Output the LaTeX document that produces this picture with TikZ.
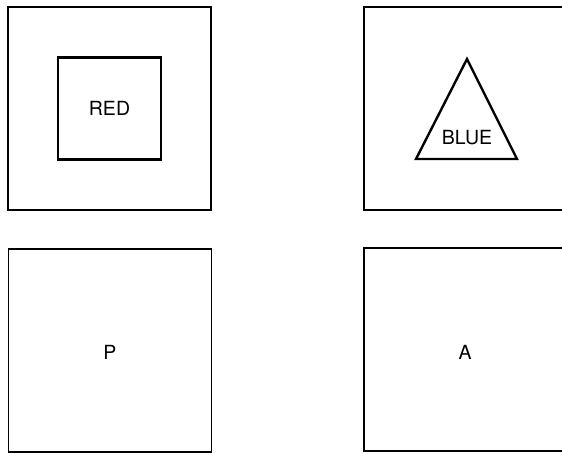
\documentclass[tikz,border=0pt]{standalone}
\usepackage{fontspec}
\setmainfont{TeX Gyre Heros}
\usetikzlibrary{positioning,calc}
\tikzset{
  panel/.style={draw, line width=1.5pt, minimum width=203pt, minimum height=203pt,
                inner sep=0pt},
  shapebox/.style={draw, line width=2.4pt, minimum width=103pt, minimum height=102pt,
                   inner sep=0pt, font=\fontsize{19.5}{22}\selectfont},
  lbl/.style={inner sep=0pt, font=\fontsize{19.5}{22}\selectfont},
  tri/.style={line width=2.4pt, line join=miter},
}

\begin{document}
\begin{tikzpicture}[x=1pt, y=-1pt]
  \useasboundingbox (0,0) rectangle (562,454);
  \clip (0,0) rectangle (562,454);
  % four panels
  \node[panel] (red) at (109.5,108.5) {};
  \node[panel] (blue) at (465.5,108.5) {};
  \node[panel] (p) at (110,350.5) {};
  \node[panel] (a) at (465.5,349.5) {};
  % inner square
  \node[shapebox] (sq) at (red.center) {RED};
  % triangle
  \coordinate (tA) at (467,59);
  \coordinate (tB) at (416,159);
  \coordinate (tC) at (517,159);
  \draw[tri] (tA) -- (tB) -- (tC) -- cycle;
  \node[lbl] (bl) at (467,138) {BLUE};
  \node[lbl] (pl) at (110,352) {P};
  \node[lbl] (al) at (465,352) {A};
\end{tikzpicture}
\end{document}
